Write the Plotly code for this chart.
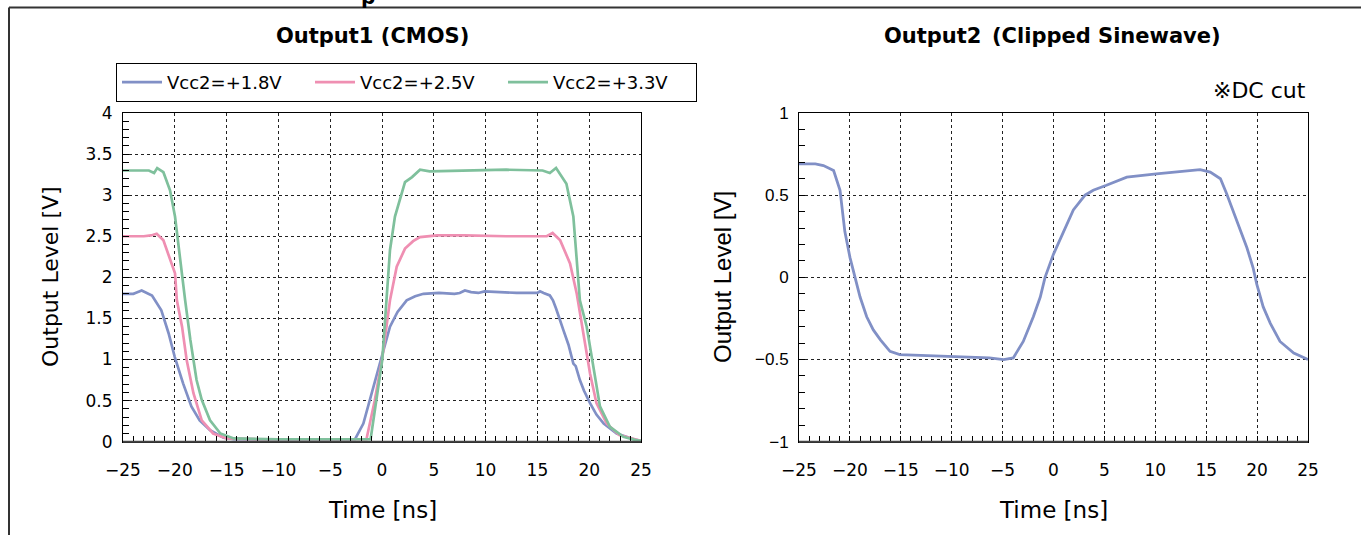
import plotly.graph_objects as go

W, H = 1361, 535

# ---------------- data ----------------
t_18 = [-25, -24, -23.8, -23.2, -22.2, -21.3, -20.6, -20.0, -19.2, -18.4, -17.6, -16.6, -15.3, -14.3,
        -12, -8, -4, -2.6, -1.8, -1.16, -0.2, 0.77, 1.5, 2.38, 3.2, 4.0, 5.5, 7.0, 7.5, 8.0, 8.6, 9.3,
        9.9, 11, 13, 15, 15.25, 15.6, 16.2, 16.5, 16.8, 17.5, 18.0, 18.47, 18.7, 19.1, 19.5, 20.08,
        20.7, 21.4, 22.65, 24.3, 25]
v_18 = [1.80, 1.80, 1.81, 1.84, 1.78, 1.60, 1.32, 1.03, 0.71, 0.43, 0.26, 0.14, 0.05, 0.03,
        0.03, 0.03, 0.03, 0.03, 0.22, 0.51, 0.95, 1.40, 1.58, 1.72, 1.77, 1.80, 1.81, 1.80, 1.81,
        1.84, 1.82, 1.81, 1.83, 1.82, 1.81, 1.81, 1.83, 1.81, 1.78, 1.72, 1.62, 1.36, 1.18, 0.95,
        0.92, 0.75, 0.62, 0.47, 0.33, 0.22, 0.10, 0.03, 0.01]

t_25 = [-25, -23, -22.3, -21.75, -21.1, -20.46, -19.98, -19.8, -19.3, -18.85, -18.2, -17.4, -16.3,
        -15.0, -12, -6, -1.5, -0.7, 0.03, 0.77, 1.42, 2.22, 3.0, 3.67, 5.3, 8, 12, 15.9, 16.47, 17.2,
        18.15, 18.8, 19.4, 20.08, 20.7, 21.7, 22.9, 24.5, 25]
v_25 = [2.50, 2.50, 2.51, 2.53, 2.45, 2.21, 2.05, 1.72, 1.40, 0.99, 0.59, 0.26, 0.10,
        0.04, 0.03, 0.03, 0.03, 0.50, 1.02, 1.72, 2.13, 2.35, 2.44, 2.49, 2.51, 2.51, 2.50, 2.50,
        2.54, 2.45, 2.17, 1.80, 1.32, 0.83, 0.47, 0.22, 0.08, 0.02, 0.01]

t_33 = [-25, -22.5, -22.0, -21.7, -21.1, -20.46, -19.98, -19.5, -19.0, -18.5, -17.9, -17.4, -16.6,
        -15.6, -14.3, -10, -5, -1.1, 0.03, 0.77, 1.25, 1.74, 2.22, 2.9, 3.67, 4.6, 8, 12, 15.5, 16.2,
        16.8, 17.8, 18.47, 19.1, 19.76, 20.4, 21.04, 22.0, 23.3, 24.5, 25]
v_33 = [3.30, 3.30, 3.27, 3.33, 3.28, 3.06, 2.74, 2.21, 1.72, 1.24, 0.75, 0.51, 0.26,
        0.10, 0.04, 0.03, 0.03, 0.03, 1.00, 2.33, 2.74, 2.94, 3.16, 3.22, 3.31, 3.29, 3.30, 3.31,
        3.30, 3.27, 3.33, 3.14, 2.74, 1.72, 1.40, 0.91, 0.43, 0.18, 0.06, 0.02, 0.01]

t_sine = [-25, -23.4, -22.6, -21.6, -20.97, -20.5, -19.99, -19.5, -19.0, -18.35, -17.7, -17.0, -16.06,
          -15.1, -12.8, -9.5, -6.3, -4.9, -3.95, -2.97, -1.98, -1.3, -0.83, -0.01, 0.97, 1.95, 3.1,
          3.9, 5.2, 7.2, 10.1, 13.1, 14.4, 15.4, 16.4, 17.0, 18.0, 19.0, 19.6, 19.96, 20.6, 21.3,
          22.25, 23.6, 25]
v_sine = [0.69, 0.69, 0.68, 0.65, 0.53, 0.28, 0.12, 0.0, -0.12, -0.24, -0.32, -0.38, -0.45,
          -0.47, -0.475, -0.48, -0.49, -0.50, -0.49, -0.39, -0.24, -0.12, 0.0, 0.14, 0.28, 0.41,
          0.50, 0.53, 0.56, 0.61, 0.63, 0.65, 0.655, 0.64, 0.60, 0.51, 0.35, 0.18, 0.06, -0.04,
          -0.18, -0.28, -0.39, -0.46, -0.50]

series_names = ["Vcc2=+1.8V", "Vcc2=+2.5V", "Vcc2=+3.3V"]
series_colors = ["#8190c6", "#ef8fb2", "#7fc09c"]

x_ticks = [-25, -20, -15, -10, -5, 0, 5, 10, 15, 20, 25]

# ---------------- geometry helpers (pixels -> paper) ----------------
def px(x):
    return x / W

def py(y):
    return 1 - y / H

L1, R1 = 123, 641
L2, R2 = 799, 1308
TOP, BOT = 113, 441.7

DJ = "DejaVu Sans"
HEL = "Liberation Sans"

fig = go.Figure()
for t, v, n, c in zip([t_18, t_25, t_33], [v_18, v_25, v_33], series_names, series_colors):
    fig.add_trace(go.Scatter(x=t, y=v, mode="lines", name=n,
                             line=dict(color=c, width=2.7), xaxis="x", yaxis="y"))
fig.add_trace(go.Scatter(x=t_sine, y=v_sine, mode="lines", name="Output2", showlegend=False,
                         line=dict(color=series_colors[0], width=2.8), xaxis="x2", yaxis="y2"))

def xaxis_cfg(domain, anchor):
    return dict(domain=domain, anchor=anchor, range=[-25, 25], tickmode="array", tickvals=x_ticks,
                showgrid=True, gridcolor="#222", griddash="3px,3px", gridwidth=1,
                ticks="inside", ticklen=6, tickcolor="black", tickwidth=1,
                showline=True, mirror=True, linecolor="black", linewidth=1, zeroline=False,
                minor=dict(dtick=1, tick0=0, ticks="inside", ticklen=6, tickcolor="black",
                           tickwidth=1, showgrid=False),
                tickfont=dict(family=DJ, size=17, color="black"), ticklabelstandoff=13,
                automargin=False, fixedrange=True)

def yaxis_cfg(domain, anchor, rng, font):
    return dict(domain=domain, anchor=anchor, range=rng, dtick=0.5, tick0=0,
                showgrid=True, gridcolor="#222", griddash="3px,3px", gridwidth=1,
                ticks="inside", ticklen=6, tickcolor="black", tickwidth=1,
                showline=True, mirror=True, linecolor="black", linewidth=1, zeroline=False,
                minor=dict(dtick=0.1, tick0=0, ticks="inside", ticklen=6, tickcolor="black",
                           tickwidth=1, showgrid=False),
                tickfont=dict(family=font, size=17, color="black"), ticklabelstandoff=6,
                automargin=False, fixedrange=True)

annotations = [
    dict(text="<b>Output1 (CMOS)</b>", x=px(372), y=py(36), font=dict(family=DJ, size=21)),
    dict(text="<b>Output2\u2002(Clipped Sinewave)</b>", x=px(1052), y=py(36), font=dict(family=DJ, size=21)),
    dict(text="※DC cut", x=px(1308), y=py(90), xanchor="right", font=dict(family=DJ, size=22)),
    dict(text="Output Level [V]", x=px(50), y=py(277), textangle=-90, font=dict(family=DJ, size=22)),
    dict(text="Output Level [V]", x=px(722), y=py(277), textangle=-90, font=dict(family=HEL, size=24)),
    dict(text="Time [ns]", x=px(382), y=py(510), font=dict(family=DJ, size=23)),
    dict(text="Time [ns]", x=px(1053), y=py(510), font=dict(family=DJ, size=23)),
    dict(text="<b>p</b>", x=px(368), y=py(11), yanchor="bottom", font=dict(family=DJ, size=20)),
]
for a in annotations:
    a.update(xref="paper", yref="paper", showarrow=False)
    a.setdefault("xanchor", "center")
    a.setdefault("yanchor", "middle")
    a["font"].setdefault("color", "black")

shapes = [
    dict(type="line", x0=px(9), x1=px(W + 5), y0=py(7.5), y1=py(7.5), line=dict(color="#333", width=2)),
    dict(type="line", x0=px(9), x1=px(9), y0=py(7.5), y1=py(H + 5), line=dict(color="#333", width=2)),
    dict(type="line", x0=px(L1), x1=px(R1), y0=py(BOT), y1=py(BOT), line=dict(color="#444", width=2)),
    dict(type="line", x0=px(L2), x1=px(R2), y0=py(BOT), y1=py(BOT), line=dict(color="#444", width=2)),
]
for s in shapes:
    s.update(xref="paper", yref="paper")

fig.update_layout(
    width=W, height=H, margin=dict(l=0, r=0, t=0, b=0, autoexpand=False),
    paper_bgcolor="white", plot_bgcolor="white",
    xaxis=xaxis_cfg([px(L1), px(R1)], "y"),
    yaxis=yaxis_cfg([py(BOT), py(TOP)], "x", [0, 4], DJ),
    xaxis2=xaxis_cfg([px(L2), px(R2)], "y2"),
    yaxis2=yaxis_cfg([py(BOT), py(TOP)], "x2", [-1, 1], HEL),
    legend=dict(orientation="h", x=px(116), y=py(63), xanchor="left", yanchor="top",
                bordercolor="black", borderwidth=1, bgcolor="white",
                font=dict(family=DJ, size=18, color="black"),
                entrywidth=138, entrywidthmode="pixels", itemwidth=40),
    annotations=annotations, shapes=shapes,
    showlegend=True,
)

fig.write_html("out.html", config={"displayModeBar": False},
               post_script="document.body.style.margin='0';document.body.style.overflow='hidden';")
